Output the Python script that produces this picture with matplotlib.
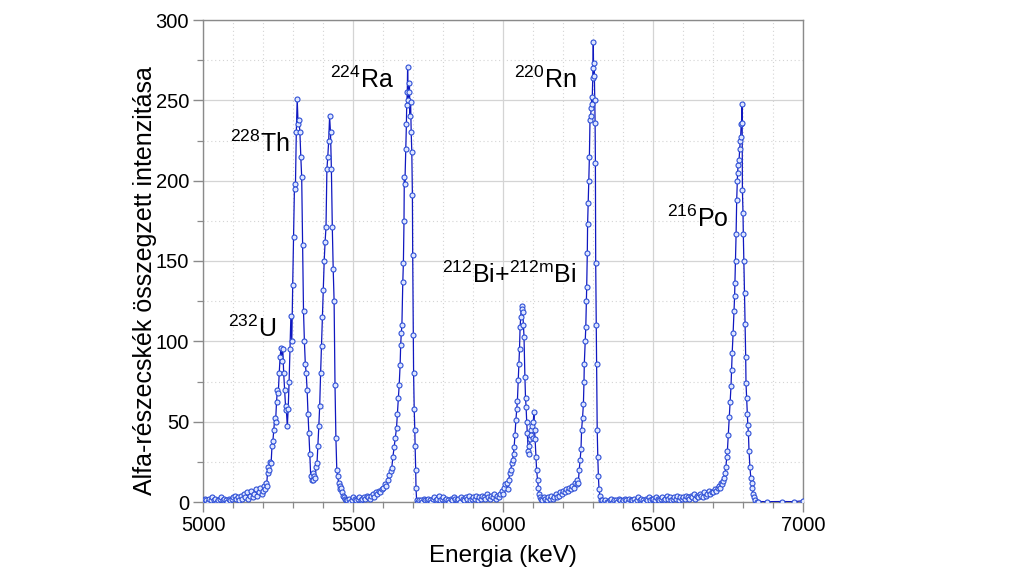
import numpy as np
import matplotlib
matplotlib.use("Agg")
import matplotlib.pyplot as plt
from matplotlib.ticker import MultipleLocator

plt.rcParams['font.family'] = ['Liberation Sans', 'DejaVu Sans']
plt.rcParams['mathtext.fontset'] = 'custom'
plt.rcParams['mathtext.rm'] = 'Liberation Sans'
plt.rcParams['mathtext.it'] = 'Liberation Sans:italic'
plt.rcParams['mathtext.bf'] = 'Liberation Sans:bold'

# ---------------- data ----------------
# baseline segments: (start keV, step keV, counts)
base_a_start, base_a_step = 5000, 5
base_a = [1, 2, 1, 0, 2, 1, 3, 1, 2, 0, 1, 2, 3, 1, 2, 1, 0, 2, 1, 2,
          3, 4, 2, 3, 1, 4, 2, 5, 3, 6, 2, 4, 7, 3, 5, 8, 4, 6, 9, 5]

peak1_e = [5200, 5203, 5206, 5209, 5212, 5215, 5218, 5221, 5224, 5227, 5230, 5233, 5236, 5239,
           5242, 5245, 5248, 5251, 5254, 5257, 5260, 5263, 5266, 5269, 5272, 5275, 5278, 5281,
           5284, 5287, 5290, 5293, 5296, 5299, 5302, 5305, 5308, 5311, 5314, 5317, 5320, 5323,
           5326, 5329, 5332, 5335, 5338, 5341, 5344, 5347, 5350, 5353, 5356, 5359, 5362, 5365,
           5368, 5371, 5374, 5377, 5380, 5383, 5386, 5389, 5392, 5395, 5398, 5401, 5404, 5407,
           5410, 5413, 5416, 5419, 5422, 5425, 5428, 5431, 5434, 5437, 5440, 5443, 5446, 5449,
           5452, 5455, 5458, 5461, 5464, 5467, 5470, 5473, 5476]
peak1_c = [7, 10, 8, 12, 10, 18, 22, 20, 25, 24, 35, 38, 45, 52,
           50, 62, 70, 68, 80, 90, 96, 88, 95, 80, 70, 60, 57, 47,
           58, 75, 95, 116, 100, 135, 165, 198, 195, 230, 251, 235, 238, 230,
           215, 202, 160, 119, 100, 86, 80, 70, 55, 43, 30, 16, 14, 18,
           14, 16, 15, 22, 24, 35, 47, 60, 80, 97, 115, 132, 150, 162,
           171, 207, 215, 225, 240, 230, 207, 171, 145, 125, 73, 40, 20, 16,
           12, 10, 8, 9, 6, 4, 3, 2, 1]

base_b_start, base_b_step = 5480, 5
base_b = [1, 2, 0, 1, 3, 2, 1, 2, 3, 1, 2, 3, 2, 4, 3, 2, 4, 5, 3, 6,
          5, 7, 6, 8, 9, 11, 10, 14, 17, 19]

peak2_e = [5629, 5633, 5637, 5641, 5645, 5648, 5651, 5654, 5657, 5659, 5661, 5663, 5666,
           5668, 5670, 5671, 5673, 5676, 5678, 5679, 5681, 5682, 5684, 5686, 5688, 5690,
           5692, 5694, 5696, 5698, 5699, 5701, 5702, 5704, 5706, 5707, 5709, 5710, 5712]
peak2_c = [21, 28, 34, 40, 46, 55, 65, 73, 85, 98, 105, 110, 137,
           149, 175, 202, 198, 220, 235, 247, 255, 271, 250, 255, 261, 240,
           249, 230, 218, 191, 154, 104, 80, 58, 45, 35, 20, 9, 1]

base_c_start, base_c_step = 5715, 5
base_c = [0, 1, 1, 0, 2, 1, 1, 2, 1, 0, 2, 3, 1, 2, 4, 1, 2, 3, 1, 2,
          1, 0, 2, 1, 3, 2, 1, 2, 0, 3, 2, 1, 3, 2, 4, 1, 2, 3, 2, 4,
          1, 3, 2, 4, 3, 2, 5, 3, 2, 4, 3, 5, 2, 4, 3, 5]

peak3_e = [5995, 6000, 6004, 6008, 6012, 6016, 6019, 6023, 6026, 6029, 6032, 6035, 6037,
           6040, 6043, 6046, 6048, 6051, 6053, 6055, 6057, 6059, 6062, 6064, 6066, 6068,
           6070, 6073, 6075, 6077, 6079, 6081, 6084, 6086, 6088, 6090, 6092, 6094, 6096,
           6099, 6101, 6103, 6105, 6107, 6110, 6112, 6115, 6118, 6121, 6123]
peak3_c = [7, 5, 9, 11, 12, 8, 14, 18, 20, 24, 26, 30, 34,
           42, 51, 58, 63, 76, 86, 95, 109, 115, 122, 120, 118, 110,
           103, 78, 65, 59, 50, 43, 32, 35, 30, 39, 45, 42, 47,
           40, 50, 56, 45, 39, 28, 20, 14, 9, 5, 3]

base_d_start, base_d_step = 6125, 5
base_d = [2, 1, 3, 2, 1, 3, 2, 4, 2, 3, 5, 3, 4, 6, 5, 7, 6, 8, 7, 9,
          8, 10, 9, 12, 11]

peak4_e = [6248, 6251, 6254, 6257, 6260, 6262, 6265, 6268, 6270, 6271, 6274, 6276, 6278,
           6279, 6281, 6282, 6284, 6286, 6288, 6290, 6292, 6294, 6296, 6297, 6299, 6300,
           6301, 6302, 6304, 6306, 6307, 6308, 6309, 6311, 6312, 6314, 6316, 6318, 6320,
           6323, 6325]
peak4_c = [14, 12, 20, 26, 33, 45, 52, 61, 75, 86, 100, 109, 125,
           134, 155, 173, 186, 200, 215, 238, 240, 245, 252, 248, 264, 270,
           286, 265, 273, 250, 236, 211, 149, 110, 86, 45, 28, 16, 8,
           4, 1]

base_e_start, base_e_step = 6330, 5
base_e = [1, 0, 1, 0, 0, 1, 2, 0, 1, 1, 0, 2, 1, 0, 1, 2, 1, 0, 2, 1,
          1, 2, 0, 1, 3, 1, 2, 1, 0, 2, 1, 3, 1, 2,
          2, 1, 3, 2, 1, 2, 3, 1, 2, 4, 2, 3, 1, 2, 3, 2, 4, 1, 3, 2,
          3, 2, 4, 3, 2, 4, 3, 5, 2, 4, 3, 5, 4, 3, 6, 4, 5, 7, 5, 6]

peak5_e = [6700, 6705, 6710, 6715, 6720, 6723, 6726, 6730, 6733, 6736, 6740, 6743, 6746,
           6748, 6751, 6754, 6757, 6760, 6762, 6764, 6767, 6770, 6772, 6773, 6775, 6777,
           6779, 6781, 6782, 6784, 6787, 6789, 6791, 6792, 6794, 6795, 6797, 6798, 6800,
           6801, 6803, 6805, 6807, 6809, 6810, 6812, 6814, 6816, 6818, 6820, 6823, 6826,
           6829, 6831, 6834, 6837, 6840, 6845]
peak5_c = [6, 8, 7, 9, 10, 9, 12, 11, 13, 15, 18, 22, 28,
           32, 42, 53, 62, 72, 82, 93, 105, 119, 128, 136, 150, 167,
           188, 200, 205, 210, 213, 220, 225, 227, 235, 236, 248, 194, 180,
           167, 150, 130, 111, 90, 74, 65, 55, 48, 43, 32, 22, 15,
           12, 9, 5, 3, 1, 0]

tail_e = [6850, 6880, 6930, 6970, 7000]
tail_c = [0.3, 0.2, 0.3, 0.2, 0.8]

labels = [r'$^{228}$Th', r'$^{224}$Ra', r'$^{232}$U', r'$^{212}$Bi+$^{\mathrm{212m}}$Bi',
          r'$^{220}$Rn', r'$^{216}$Po']
label_x = [5090, 5423, 5084, 5796, 6037, 6546]
label_y = [218, 257.4, 102.9, 136.5, 257.6, 171.3]

x_ticks = [5000, 5500, 6000, 6500, 7000]
y_ticks = [0, 50, 100, 150, 200, 250, 300]

# ---------------- assemble ----------------
def seg(start, step, vals):
    return [start + i * step for i in range(len(vals))], list(vals)

parts = [seg(base_a_start, base_a_step, base_a), (peak1_e, peak1_c),
         seg(base_b_start, base_b_step, base_b), (peak2_e, peak2_c),
         seg(base_c_start, base_c_step, base_c), (peak3_e, peak3_c),
         seg(base_d_start, base_d_step, base_d), (peak4_e, peak4_c),
         seg(base_e_start, base_e_step, base_e), (peak5_e, peak5_c),
         (tail_e, tail_c)]
energy = np.concatenate([np.asarray(p[0], float) for p in parts])
counts = np.concatenate([np.asarray(p[1], float) for p in parts])

# ---------------- plot ----------------
fig = plt.figure(figsize=(10.24, 5.77), dpi=100)
ax = fig.add_axes([203 / 1024, 75 / 577, 600 / 1024, 482 / 577])

ax.plot(energy, counts, '-', color='#1018c0', lw=0.9,
        marker='o', ms=3.6, mfc='#dfe7ff', mec='#2e4fd6', mew=0.8, zorder=3)

ax.set_xlim(5000, 7000)
ax.set_ylim(0, 300)
ax.set_xticks(x_ticks)
ax.set_yticks(y_ticks)
ax.xaxis.set_minor_locator(MultipleLocator(100))
ax.yaxis.set_minor_locator(MultipleLocator(25))

ax.grid(which='major', color='#d4d4d4', lw=0.9, ls='-', zorder=0)
ax.grid(which='minor', color='#d4d4d4', lw=0.8, ls=(0, (1, 2.5)), zorder=0)
ax.set_axisbelow(True)

for s in ax.spines.values():
    s.set_color('#8a8a8a')
    s.set_linewidth(1.0)

ax.tick_params(which='major', direction='out', length=7, width=1.0, color='#8a8a8a',
               labelsize=14.5, labelcolor='black', pad=3)
ax.tick_params(which='minor', direction='out', length=4, width=0.9, color='#8a8a8a')

ax.set_xlabel('Energia (keV)', fontsize=17.5, labelpad=7)
ax.set_ylabel('Alfa-részecskék összegzett intenzitása', fontsize=18)
ax.yaxis.set_label_coords(-0.077, 0.46)

for t, lx, ly in zip(labels, label_x, label_y):
    ax.text(lx, ly, t, fontsize=18, ha='left', va='baseline', color='black', zorder=4)

fig.savefig('out.png', dpi=100)
